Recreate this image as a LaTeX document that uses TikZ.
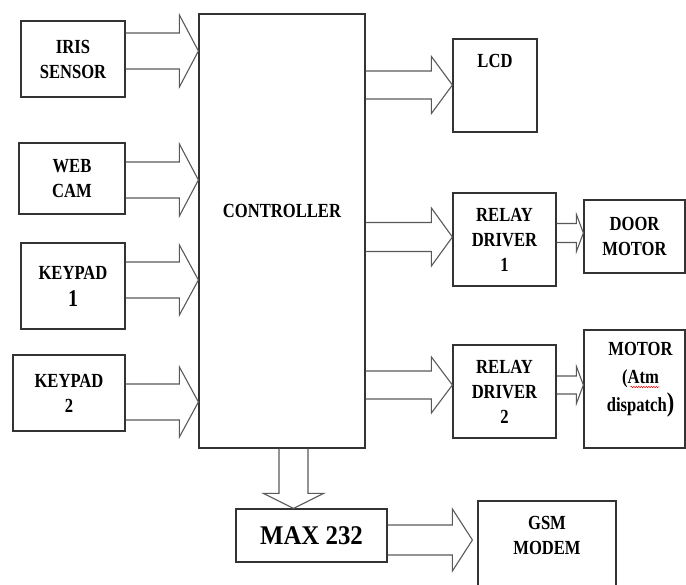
\documentclass[tikz,border=0pt]{standalone}
\usepackage{fontspec}
\setmainfont[FakeStretch=0.83]{Liberation Serif}
\newfontfamily\maxfont[FakeStretch=0.92]{Liberation Serif}
\usetikzlibrary{positioning, calc, decorations.pathmorphing}

\tikzset{
  blockbox/.style={rectangle, draw=black!80, line width=1.2pt, inner sep=0pt,
    align=center, font=\fontsize{20}{25}\selectfont\bfseries},
  boxlabel/.style={inner sep=0pt, align=center, font=\fontsize{20}{25}\selectfont\bfseries},
  fatarrow/.style={draw=black!65, line width=1.1pt, line join=miter}
}

% hollow block arrow to the right: start, end, y, half shaft, half head, head length
\newcommand{\fatR}[6]{
  \draw[fatarrow] let \p1=(#1), \p2=(#2), \p3=(0,#3) in
    (\x1,\y3+#4) -- (\x2-#6,\y3+#4) -- (\x2-#6,\y3+#5) -- (\x2,\y3)
    -- (\x2-#6,\y3-#5) -- (\x2-#6,\y3-#4) -- (\x1,\y3-#4);
}
% hollow block arrow downwards: start, end, x, half shaft, half head, head length
\newcommand{\fatD}[6]{
  \draw[fatarrow] let \p1=(#1), \p2=(#2), \p3=(#3,0) in
    (\x3-#4,\y1) -- (\x3-#4,\y2+#6) -- (\x3-#5,\y2+#6) -- (\x3,\y2)
    -- (\x3+#5,\y2+#6) -- (\x3+#4,\y2+#6) -- (\x3+#4,\y1);
}

\begin{document}
\begin{tikzpicture}[x=1pt, y=-1pt]
  \clip (0,0) rectangle (686,585);

  % inputs
  \node[blockbox, minimum width=104pt, minimum height=76pt] (iris) at (73,59) {IRIS\\SENSOR};
  \node[blockbox, minimum width=106pt, minimum height=71pt] (webcam) at (72,178.5) {WEB\\CAM};
  \node[blockbox, minimum width=104pt, minimum height=86pt] (keypadA) at (73,286)
    {KEYPAD\\[2pt]{\fontsize{24}{24}\selectfont 1}};
  \node[blockbox, minimum width=112pt, minimum height=76pt] (keypadB) at (69,393) {KEYPAD\\2};

  % controller
  \node[blockbox, minimum width=166pt, minimum height=434pt] (ctrl) at (282,231) {};
  \node[boxlabel] (ctrltxt) at ($(ctrl.center)+(0,-20)$) {CONTROLLER};

  % outputs
  \node[blockbox, minimum width=84pt, minimum height=93pt] (lcd) at (495,85.5) {};
  \node[boxlabel] (lcdtxt) at ($(lcd.north)+(0,23)$) {LCD};
  \node[blockbox, minimum width=103pt, minimum height=93pt] (relayA) at (504.5,239.5) {RELAY\\DRIVER\\1};
  \node[blockbox, minimum width=103pt, minimum height=93pt] (relayB) at (504.5,391.5) {RELAY\\DRIVER\\2};
  \node[blockbox, minimum width=101pt, minimum height=73pt] (door) at (634.5,236.5) {DOOR\\MOTOR};
  \node[blockbox, minimum width=101pt, minimum height=118pt] (motor) at (634.5,389) {};
  \node[boxlabel, font=\fontsize{20}{28}\selectfont\bfseries] (motortxt) at ($(motor.center)+(6,-9)$)
    {MOTOR\\(Atm\\dispatch{\fontsize{27}{27}\selectfont)}};
  \draw[red, line width=0.5pt, decorate, decoration={snake, amplitude=0.7pt, segment length=2.5pt}]
    ($(motortxt.center)+(-10,7)$) -- ($(motortxt.center)+(19,7)$);

  % serial side
  \node[blockbox, minimum width=151pt, minimum height=53pt, font=\maxfont\fontsize{27}{27}\selectfont\bfseries]
    (max) at (311.5,535.5) {MAX 232};
  \node[blockbox, minimum width=138pt, minimum height=99pt] (gsm) at (547,550.5) {};
  \node[boxlabel] (gsmtxt) at ($(gsm.north)+(0,35)$) {GSM\\MODEM};

  % block arrows
  \fatR{iris.east}{ctrl.west}{51}{18pt}{36pt}{19pt}
  \fatR{webcam.east}{ctrl.west}{180}{18pt}{36pt}{19pt}
  \fatR{keypadA.east}{ctrl.west}{280}{18pt}{35pt}{19pt}
  \fatR{keypadB.east}{ctrl.west}{402}{18pt}{35pt}{19pt}
  \fatR{ctrl.east}{lcd.west}{85}{14pt}{28.5pt}{21pt}
  \fatR{ctrl.east}{relayA.west}{237}{14.5pt}{29pt}{21pt}
  \fatR{ctrl.east}{relayB.west}{385}{14pt}{28pt}{21pt}
  \fatR{relayA.east}{door.west}{233}{9.5pt}{18.5pt}{7pt}
  \fatR{relayB.east}{motor.west}{385}{9pt}{18.5pt}{7pt}
  \fatD{ctrl.south}{max.north}{293.5}{14.5pt}{30pt}{15pt}
  \fatR{max.east}{$(gsm.west)+(-5,0)$}{540}{15pt}{31pt}{20pt}
\end{tikzpicture}
\end{document}
